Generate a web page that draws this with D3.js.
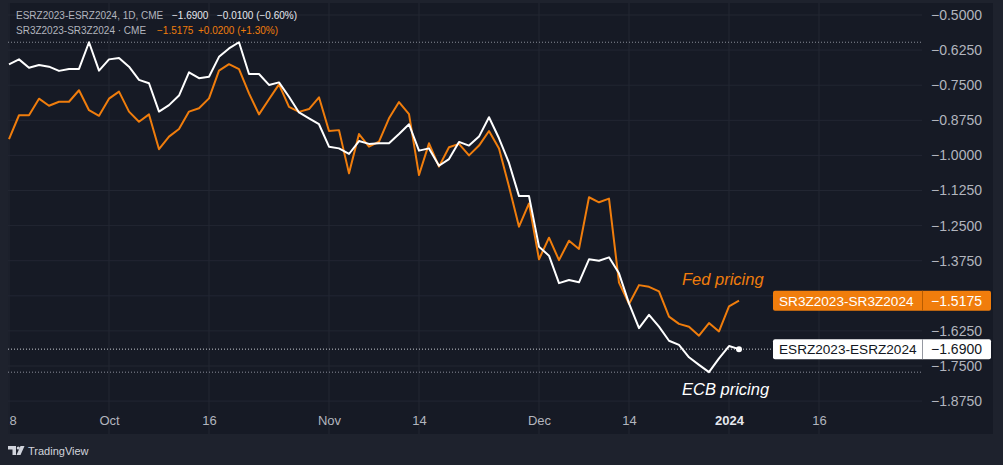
<!DOCTYPE html>
<html>
<head>
<meta charset="utf-8">
<script src="https://cdn.jsdelivr.net/npm/d3@7"></script>
<style>
  body { margin: 0; background: #1e222d; }
  svg { display: block; font-family: "Liberation Sans", Arial, sans-serif; }
</style>
</head>
<body>
<svg id="chart" width="1003" height="465"></svg>
<script>
// ECB (ESR) and Fed (SR3) Dec23-Dec24 spread, daily closes from Sep 18 2023
var esrValues = [
  -0.676, -0.658, -0.688, -0.678, -0.684, -0.699, -0.692, -0.692, -0.597, -0.698,
  -0.658, -0.653, -0.684, -0.731, -0.743, -0.844, -0.821, -0.787, -0.704, -0.725,
  -0.720, -0.649, -0.619, -0.597, -0.710, -0.710, -0.749, -0.740, -0.791, -0.847,
  -0.868, -0.889, -0.969, -0.975, -0.995, -0.949, -0.959, -0.957, -0.957, -0.924,
  -0.889, -0.983, -0.975, -1.037, -1.013, -0.952, -0.965, -0.933, -0.864, -0.939,
  -1.027, -1.145, -1.145, -1.325, -1.357, -1.455, -1.444, -1.452, -1.370, -1.375,
  -1.363, -1.420, -1.527, -1.615, -1.568, -1.610, -1.660, -1.675, -1.719, -1.746,
  -1.772, -1.723, -1.679, -1.690
];

var sr3Values = [
  -0.942, -0.857, -0.857, -0.798, -0.823, -0.809, -0.809, -0.768, -0.839, -0.859,
  -0.798, -0.773, -0.844, -0.880, -0.854, -0.978, -0.933, -0.906, -0.844, -0.832,
  -0.797, -0.698, -0.675, -0.693, -0.779, -0.854, -0.800, -0.747, -0.827, -0.845,
  -0.835, -0.793, -0.913, -0.910, -1.064, -0.924, -0.969, -0.951, -0.868, -0.810,
  -0.853, -1.070, -0.957, -1.040, -0.971, -0.959, -1.000, -0.965, -0.913, -0.975,
  -1.111, -1.254, -1.171, -1.370, -1.293, -1.373, -1.304, -1.333, -1.149, -1.167,
  -1.154, -1.453, -1.529, -1.462, -1.468, -1.484, -1.574, -1.600, -1.610, -1.642,
  -1.597, -1.627, -1.538, -1.5175
];

var holidays = ['2023-11-23', '2023-12-25', '2023-12-26', '2024-01-01', '2024-01-15'];

var xTickDates = ['2023-09-18', '2023-10-02', '2023-10-16', '2023-11-01', '2023-11-14',
                  '2023-12-01', '2023-12-14', '2024-01-02', '2024-01-16'];
var xTickLabels = ['18', 'Oct', '16', 'Nov', '14', 'Dec', '14', '2024', '16'];

var yTicks = [-0.5, -0.625, -0.75, -0.875, -1.0, -1.125, -1.25, -1.375, -1.5, -1.625, -1.75, -1.875];

var esrName = 'ESRZ2023-ESRZ2024';
var sr3Name = 'SR3Z2023-SR3Z2024';

var orange = '#f07d0c';
var grey = '#b2b5be';

var fmtDay = d3.timeFormat('%Y-%m-%d');
var tradingDays = d3.timeDay.range(new Date(2023, 8, 18), new Date(2024, 0, 17))
  .filter(function (d) { return d.getDay() % 6 !== 0; })
  .map(fmtDay)
  .filter(function (s) { return holidays.indexOf(s) < 0; });

var esr = esrValues.map(function (v, i) { return { day: tradingDays[i], v: v }; });
var sr3 = sr3Values.map(function (v, i) { return { day: tradingDays[i], v: v }; });

var plotLeft = 8, plotRight = 922, plotTop = 3, plotBottom = 434;

var x = d3.scalePoint().domain(tradingDays).range([9, 819]);
var y = d3.scaleLinear().domain([-0.5, -1.875]).range([15, 401.1]);
var fmtPrice = d3.format('.4f');

var esrLast = esrValues[esrValues.length - 1];
var sr3Last = sr3Values[sr3Values.length - 1];

var svg = d3.select('#chart');

svg.append('rect')
  .attr('x', plotLeft).attr('y', plotTop)
  .attr('width', 993 - plotLeft).attr('height', plotBottom - plotTop)
  .attr('fill', '#161a25');

var defs = svg.append('defs');
defs.append('clipPath').attr('id', 'plot-clip')
  .append('rect')
  .attr('x', plotLeft).attr('y', plotTop)
  .attr('width', plotRight - plotLeft).attr('height', plotBottom - plotTop);
defs.append('clipPath').attr('id', 'xlabel-clip')
  .append('rect')
  .attr('x', 9.5).attr('y', plotTop)
  .attr('width', plotRight - 9.5).attr('height', plotBottom - plotTop);

// grid
var grid = svg.append('g').attr('clip-path', 'url(#plot-clip)');
grid.selectAll('.hgrid').data(yTicks).enter().append('line')
  .attr('x1', plotLeft).attr('x2', plotRight)
  .attr('y1', y).attr('y2', y)
  .attr('stroke', '#222632').attr('stroke-width', 1);
grid.selectAll('.vgrid').data(xTickDates).enter().append('line')
  .attr('x1', x).attr('x2', x)
  .attr('y1', plotTop).attr('y2', plotBottom)
  .attr('stroke', '#222632').attr('stroke-width', 1);

// x axis
var xAxisG = svg.append('g')
  .attr('transform', 'translate(0,' + 412 + ')')
  .attr('clip-path', 'url(#xlabel-clip)')
  .call(d3.axisBottom(x).tickValues(xTickDates).tickSize(0)
    .tickFormat(function (d) { return xTickLabels[xTickDates.indexOf(d)]; }));
xAxisG.select('.domain').remove();
xAxisG.selectAll('text')
  .attr('dy', 0).attr('y', 13)
  .style('font-size', '13px')
  .style('font-family', '"Liberation Sans", Arial, sans-serif')
  .style('font-weight', function (d) { return d === '2024-01-02' ? 'bold' : 'normal'; })
  .attr('fill', function (d) { return d === '2024-01-02' ? '#e6e8ee' : grey; });

// y axis (ticks hidden behind the price labels are left out)
var visibleYTicks = yTicks.filter(function (t) {
  return Math.abs(y(t) - y(esrLast)) > 12 && Math.abs(y(t) - y(sr3Last)) > 12;
});
var yAxisG = svg.append('g')
  .attr('transform', 'translate(' + 931 + ',0)')
  .call(d3.axisRight(y).tickValues(visibleYTicks).tickSize(0).tickPadding(0).tickFormat(fmtPrice));
yAxisG.select('.domain').remove();
yAxisG.selectAll('text')
  .attr('fill', grey)
  .style('font-size', '14px')
  .style('font-family', '"Liberation Sans", Arial, sans-serif');

// high / low / last price lines
var lines = svg.append('g').attr('clip-path', 'url(#plot-clip)');
[d3.max(esrValues), d3.min(esrValues)].forEach(function (v) {
  lines.append('line')
    .attr('x1', plotLeft).attr('x2', plotRight)
    .attr('y1', y(v)).attr('y2', y(v))
    .attr('stroke', '#8a8e99').attr('stroke-width', 1)
    .attr('stroke-dasharray', '1,2');
});
lines.append('line')
  .attr('x1', plotLeft).attr('x2', plotRight)
  .attr('y1', y(esrLast)).attr('y2', y(esrLast))
  .attr('stroke', '#c9ccd3').attr('stroke-width', 1)
  .attr('stroke-dasharray', '1,2');

var line = d3.line()
  .x(function (d) { return x(d.day); })
  .y(function (d) { return y(d.v); });

lines.append('path').datum(sr3)
  .attr('d', line)
  .attr('fill', 'none')
  .attr('stroke', orange)
  .attr('stroke-width', 2)
  .attr('stroke-linejoin', 'round');

lines.append('path').datum(esr)
  .attr('d', line)
  .attr('fill', 'none')
  .attr('stroke', '#ffffff')
  .attr('stroke-width', 2)
  .attr('stroke-linejoin', 'round');

lines.append('circle')
  .attr('cx', x(esr[esr.length - 1].day))
  .attr('cy', y(esrLast))
  .attr('r', 3)
  .attr('fill', '#ffffff');

// annotations
svg.append('text')
  .attr('x', 682).attr('y', 285)
  .attr('fill', orange)
  .style('font-size', '16.5px').style('font-style', 'italic')
  .text('Fed pricing');
svg.append('text')
  .attr('x', 682).attr('y', 395)
  .attr('fill', '#ffffff')
  .style('font-size', '16.5px').style('font-style', 'italic')
  .text('ECB pricing');

// price labels on the right
function priceLabel(name, value, bg, fg, divider) {
  var cy = y(value);
  var g = svg.append('g');
  g.append('rect')
    .attr('x', 773).attr('y', cy - 10).attr('width', 218).attr('height', 20)
    .attr('rx', 2).attr('fill', bg);
  g.append('line')
    .attr('x1', 922.5).attr('x2', 922.5).attr('y1', cy - 10).attr('y2', cy + 10)
    .attr('stroke', divider).attr('stroke-width', 1);
  g.append('text')
    .attr('x', 779).attr('y', cy).attr('dy', '0.36em')
    .attr('fill', fg).style('font-size', '13.6px')
    .text(name);
  g.append('text')
    .attr('x', 931).attr('y', cy).attr('dy', '0.36em')
    .attr('fill', fg).style('font-size', '14px')
    .text(fmtPrice(value));
}
priceLabel(sr3Name, sr3Last, orange, '#ffffff', '#b85c00');
priceLabel(esrName, esrLast, '#ffffff', '#131722', '#9598a1');

// legend
var legend = svg.append('g').style('font-size', '10px');
var l1 = legend.append('text').attr('x', 16).attr('y', 19);
l1.append('tspan').attr('fill', grey).text(esrName + ', 1D, CME');
l1.append('tspan').attr('fill', '#e6e8ee').attr('x', 172).text(fmtPrice(esrLast));
l1.append('tspan').attr('fill', '#e6e8ee').attr('x', 217).text('−0.0100 (−0.60%)');
var l2 = legend.append('text').attr('x', 16).attr('y', 34);
l2.append('tspan').attr('fill', grey).text(sr3Name + ' · CME');
l2.append('tspan').attr('fill', orange).attr('x', 157).text(fmtPrice(sr3Last));
l2.append('tspan').attr('fill', orange).attr('x', 198).text('+0.0200 (+1.30%)');

// TradingView mark
var logo = svg.append('g').attr('fill', '#d1d4dc');
logo.append('path').attr('d', 'M8,446 h8 v9 h-3.5 v-5.5 h-4.5 z');
logo.append('circle').attr('cx', 18.3).attr('cy', 448).attr('r', 1.6);
logo.append('path').attr('d', 'M20.5,446 h4 l-4,9 h-4 z');
svg.append('text')
  .attr('x', 28).attr('y', 455)
  .attr('fill', '#d1d4dc')
  .style('font-size', '11px')
  .text('TradingView');
</script>
</body>
</html>
